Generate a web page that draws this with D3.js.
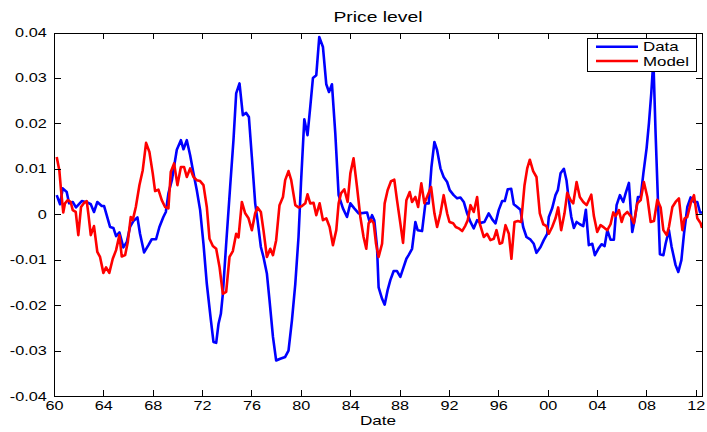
<!DOCTYPE html>
<html>
<head>
<meta charset="utf-8">
<title>Price level</title>
<style>
  body { margin: 0; background: #fff; }
  svg text { font-family: "Liberation Sans", Arial, Helvetica, sans-serif; fill: #000; }
  .axis path, .axis line { stroke: #000; stroke-width: 1; shape-rendering: crispEdges; }
</style>
</head>
<body>
<svg id="chart" width="707" height="432"></svg>
<script src="https://d3js.org/d3.v7.min.js"></script>
<script>
// decimal years and values
var dataYears = [1960.22,1960.49,1960.71,1961.03,1961.22,1961.52,1961.78,1962.25,1962.70,1962.98,1963.24,1963.51,1963.87,1964.06,1964.54,1964.81,1965.03,1965.30,1965.62,1965.90,1966.16,1966.43,1966.76,1966.97,1967.30,1967.65,1967.92,1968.27,1968.54,1968.86,1969.06,1969.27,1969.55,1969.95,1970.28,1970.49,1970.76,1971.03,1971.30,1971.57,1971.84,1972.11,1972.38,1972.71,1972.92,1973.14,1973.33,1973.52,1973.68,1973.95,1974.27,1974.54,1974.76,1975.03,1975.30,1975.57,1975.79,1976.03,1976.30,1976.49,1976.76,1976.97,1977.25,1977.46,1977.74,1978.00,1978.33,1978.73,1979.00,1979.28,1979.55,1979.81,1980.01,1980.28,1980.54,1980.76,1980.98,1981.25,1981.49,1981.79,1982.06,1982.28,1982.52,1982.79,1983.06,1983.41,1983.74,1984.01,1984.33,1984.68,1985.08,1985.36,1985.57,1985.77,1985.95,1986.17,1986.30,1986.58,1986.79,1987.03,1987.25,1987.52,1987.79,1988.06,1988.33,1988.55,1988.73,1989.01,1989.28,1989.46,1989.82,1990.09,1990.36,1990.58,1990.82,1991.04,1991.31,1991.57,1991.85,1992.06,1992.38,1992.66,1992.93,1993.20,1993.47,1993.74,1994.01,1994.28,1994.55,1994.87,1995.22,1995.52,1995.77,1996.03,1996.31,1996.52,1996.76,1997.04,1997.25,1997.53,1997.79,1998.01,1998.28,1998.61,1998.87,1999.09,1999.42,1999.68,1999.96,2000.09,2000.36,2000.63,2000.82,2001.04,2001.31,2001.52,2001.71,2001.91,2002.12,2002.34,2002.60,2002.88,2003.09,2003.33,2003.61,2003.82,2004.10,2004.36,2004.61,2004.83,2005.09,2005.36,2005.58,2005.85,2006.12,2006.31,2006.58,2006.85,2007.06,2007.31,2007.53,2007.75,2008.01,2008.20,2008.39,2008.56,2008.74,2008.93,2009.09,2009.37,2009.55,2009.82,2010.04,2010.36,2010.58,2010.83,2011.04,2011.31,2011.58,2011.85,2012.12,2012.34,2012.50];
var dataValues = [0.0042,0.0022,0.0057,0.0049,0.0024,0.0027,0.0015,0.0029,0.0026,0.0022,0.0005,0.0027,0.0018,0.0018,-0.0028,-0.0030,-0.0048,-0.0040,-0.0073,-0.0061,-0.0028,-0.0015,-0.0007,-0.0043,-0.0084,-0.0068,-0.0055,-0.0055,-0.0028,-0.0006,0.0005,0.0046,0.0075,0.0142,0.0163,0.0143,0.0163,0.0130,0.0090,0.0053,0.0009,-0.0065,-0.0153,-0.0233,-0.0281,-0.0283,-0.0241,-0.0219,-0.0175,-0.0065,0.0060,0.0163,0.0266,0.0288,0.0218,0.0223,0.0214,0.0126,0.0024,-0.0013,-0.0072,-0.0094,-0.0131,-0.0189,-0.0270,-0.0322,-0.0318,-0.0314,-0.0300,-0.0233,-0.0153,-0.0050,0.0068,0.0209,0.0174,0.0236,0.0300,0.0306,0.0390,0.0368,0.0286,0.0269,0.0286,0.0178,0.0042,0.0013,-0.0006,0.0024,0.0013,0.0002,0.0003,0.0004,-0.0017,-0.0002,-0.0013,-0.0072,-0.0161,-0.0186,-0.0199,-0.0167,-0.0145,-0.0125,-0.0125,-0.0138,-0.0116,-0.0098,-0.0090,-0.0076,-0.0017,-0.0035,-0.0037,0.0024,0.0024,0.0104,0.0159,0.0141,0.0101,0.0082,0.0071,0.0053,0.0042,0.0035,0.0037,0.0027,0.0002,-0.0017,-0.0031,-0.0013,-0.0019,-0.0017,0.0002,-0.0012,-0.0020,0.0009,0.0029,0.0029,0.0055,0.0056,0.0022,0.0016,0.0010,-0.0028,-0.0050,-0.0056,-0.0065,-0.0085,-0.0072,-0.0057,-0.0043,-0.0006,0.0013,0.0042,0.0053,0.0090,0.0100,0.0075,0.0031,-0.0006,-0.0030,-0.0017,-0.0022,-0.0026,0.0010,-0.0068,-0.0065,-0.0090,-0.0076,-0.0066,-0.0070,-0.0035,-0.0056,-0.0056,0.0020,0.0042,0.0027,0.0046,0.0069,-0.0039,-0.0010,0.0038,0.0038,0.0090,0.0145,0.0200,0.0266,0.0340,0.0178,0.0031,-0.0088,-0.0090,-0.0065,-0.0035,-0.0072,-0.0112,-0.0127,-0.0101,-0.0043,0.0016,0.0037,0.0027,0.0027,0.0004,0.0004];

var modelYears = [1960.22,1960.43,1960.57,1960.75,1960.89,1961.11,1961.35,1961.52,1961.76,1961.97,1962.19,1962.43,1962.65,1962.78,1962.98,1963.24,1963.51,1963.73,1964.00,1964.22,1964.48,1964.76,1965.03,1965.30,1965.49,1965.76,1965.98,1966.22,1966.38,1966.63,1966.92,1967.19,1967.46,1967.73,1968.00,1968.19,1968.46,1968.73,1969.00,1969.27,1969.46,1969.73,1970.00,1970.28,1970.54,1970.76,1971.03,1971.30,1971.57,1971.84,1972.11,1972.38,1972.60,1972.87,1973.14,1973.41,1973.68,1973.95,1974.22,1974.49,1974.76,1974.95,1975.22,1975.49,1975.76,1976.03,1976.30,1976.49,1976.76,1976.97,1977.25,1977.52,1977.74,1978.00,1978.27,1978.55,1978.73,1979.00,1979.22,1979.55,1979.81,1980.09,1980.36,1980.54,1980.76,1981.03,1981.25,1981.52,1981.79,1982.06,1982.33,1982.60,1982.87,1983.06,1983.25,1983.52,1983.79,1984.01,1984.27,1984.55,1984.82,1985.08,1985.30,1985.49,1985.69,1985.90,1986.09,1986.30,1986.58,1986.79,1987.03,1987.31,1987.57,1987.79,1988.06,1988.28,1988.55,1988.82,1989.01,1989.28,1989.50,1989.76,1990.01,1990.28,1990.55,1990.82,1991.04,1991.31,1991.57,1991.85,1992.04,1992.34,1992.55,1992.79,1993.07,1993.33,1993.52,1993.74,1994.01,1994.28,1994.49,1994.82,1995.09,1995.36,1995.63,1995.85,1996.11,1996.31,1996.58,1996.85,1997.06,1997.31,1997.58,1997.85,1998.12,1998.34,1998.55,1998.82,1999.09,1999.36,1999.64,1999.90,2000.09,2000.36,2000.63,2000.85,2001.09,2001.36,2001.58,2001.85,2002.07,2002.34,2002.60,2002.88,2003.15,2003.53,2003.74,2004.01,2004.28,2004.55,2004.83,2005.09,2005.31,2005.50,2005.77,2005.99,2006.17,2006.45,2006.72,2006.98,2007.26,2007.53,2007.79,2008.07,2008.34,2008.61,2008.88,2009.15,2009.37,2009.64,2009.82,2010.10,2010.36,2010.63,2010.91,2011.09,2011.31,2011.58,2011.85,2012.12,2012.39,2012.50];
var modelValues = [0.0126,0.0097,0.0053,0.0004,0.0024,0.0031,0.0027,0.0009,0.0005,-0.0046,0.0016,0.0025,0.0029,0.0002,-0.0046,-0.0026,-0.0083,-0.0094,-0.0129,-0.0117,-0.0129,-0.0098,-0.0079,-0.0046,-0.0093,-0.0090,-0.0061,-0.0006,-0.0013,0.0016,0.0064,0.0097,0.0157,0.0137,0.0090,0.0051,0.0054,0.0031,0.0016,0.0013,0.0093,0.0112,0.0064,0.0104,0.0104,0.0082,0.0101,0.0082,0.0075,0.0073,0.0064,0.0016,-0.0054,-0.0070,-0.0076,-0.0116,-0.0175,-0.0171,-0.0094,-0.0081,-0.0043,-0.0051,0.0027,0.0002,-0.0009,-0.0035,0.0002,0.0015,0.0005,-0.0035,-0.0094,-0.0076,-0.0090,-0.0057,0.0020,0.0038,0.0075,0.0095,0.0075,0.0020,0.0015,0.0018,0.0024,0.0044,0.0024,0.0025,-0.0002,0.0024,-0.0013,-0.0009,-0.0028,-0.0068,-0.0035,0.0024,0.0046,0.0055,0.0027,0.0090,0.0123,0.0060,-0.0006,-0.0050,-0.0076,-0.0020,-0.0012,-0.0020,-0.0065,-0.0094,-0.0065,0.0024,0.0053,0.0073,0.0076,0.0031,-0.0020,-0.0063,0.0031,0.0049,0.0027,0.0038,0.0016,0.0068,0.0024,0.0042,0.0060,0.0002,-0.0028,0.0002,0.0042,0.0002,-0.0017,-0.0020,-0.0028,-0.0031,-0.0037,-0.0025,-0.0013,0.0020,0.0005,0.0038,-0.0020,-0.0050,-0.0043,-0.0057,-0.0054,-0.0035,-0.0065,-0.0063,-0.0024,-0.0043,-0.0098,-0.0017,-0.0015,-0.0017,0.0064,0.0101,0.0120,0.0095,0.0082,0.0002,-0.0022,-0.0026,-0.0043,-0.0028,-0.0009,0.0015,-0.0035,0.0002,0.0047,0.0031,0.0024,0.0071,0.0038,0.0027,0.0020,0.0043,-0.0004,-0.0039,-0.0024,-0.0029,-0.0035,-0.0022,0.0004,-0.0004,0.0009,-0.0017,-0.0002,0.0005,-0.0004,-0.0020,0.0024,0.0031,0.0071,0.0038,-0.0017,-0.0015,0.0032,0.0015,-0.0035,-0.0046,-0.0028,0.0016,0.0027,0.0035,-0.0035,-0.0009,-0.0006,0.0024,0.0042,-0.0009,-0.0020,-0.0030];

var xTicks = d3.range(1960, 2013, 4);
var yTicks = [-0.04, -0.03, -0.02, -0.01, 0, 0.01, 0.02, 0.03, 0.04];
var seriesNames = ["Data", "Model"];

var svg = d3.select("#chart"),
    margin = {top: 32.5, right: 5, bottom: 36, left: 54},
    width = 707 - margin.left - margin.right,
    height = 432 - margin.top - margin.bottom,
    stretch = 1.3;   // the original font looks stretched sideways

var x = d3.scaleLinear().domain([1960, 2012.5]).range([0, width]),
    y = d3.scaleLinear().domain([-0.04, 0.04]).range([height, 0]);

var g = svg.append("g")
    .attr("transform", "translate(" + margin.left + "," + margin.top + ")");

g.append("clipPath").attr("id", "clip")
  .append("rect").attr("width", width).attr("height", height);

var line = d3.line()
    .x(function(d) { return x(d[0]); })
    .y(function(d) { return y(d[1]); });

var dataPts = d3.zip(dataYears, dataValues),
    modelPts = d3.zip(modelYears, modelValues);

g.append("path").datum(dataPts)
    .attr("clip-path", "url(#clip)")
    .attr("fill", "none").attr("stroke", "#0000ff")
    .attr("stroke-width", 2.6).attr("stroke-linejoin", "round")
    .attr("d", line);

g.append("path").datum(modelPts)
    .attr("clip-path", "url(#clip)")
    .attr("fill", "none").attr("stroke", "#ff0000")
    .attr("stroke-width", 2.6).attr("stroke-linejoin", "round")
    .attr("d", line);

// axes, ticks pointing inward like matlab
var tick = 6.5;

var xAxis = g.append("g")
    .attr("class", "axis")
    .attr("transform", "translate(0," + height + ")")
    .call(d3.axisBottom(x).tickValues(xTicks).tickSize(-tick).tickSizeOuter(0).tickPadding(5)
      .tickFormat(function(d) { return d3.format("02d")(d % 100); }));
xAxis.selectAll("text")
    .attr("font-size", "12.5px")
    .attr("transform", "scale(" + stretch + ",1)");

var yAxis = g.append("g")
    .attr("class", "axis")
    .call(d3.axisLeft(y).tickValues(yTicks).tickSize(-tick).tickSizeOuter(0)
      .tickFormat(function(d) { return d === 0 ? "0" : d3.format(".2f")(d).replace("−", "-"); }));
yAxis.selectAll("text")
    .attr("font-size", "12.5px")
    .attr("x", -5.6)
    .attr("transform", "scale(" + stretch + ",1)");

g.append("g").attr("class", "axis")
    .call(d3.axisTop(x).tickValues(xTicks).tickSize(-tick).tickSizeOuter(0).tickFormat(""));
g.append("g").attr("class", "axis")
    .attr("transform", "translate(" + width + ",0)")
    .call(d3.axisRight(y).tickValues(yTicks).tickSize(-tick).tickSizeOuter(0).tickFormat(""));

g.selectAll(".axis .domain").attr("stroke", "#000");
g.selectAll(".axis text").attr("fill", "#000");

// title and label
svg.append("text")
    .attr("transform", "translate(" + (margin.left + width / 2) + ",21.7) scale(1.38,1)")
    .attr("text-anchor", "middle")
    .attr("font-size", "14px")
    .text("Price level");

svg.append("text")
    .attr("transform", "translate(" + (margin.left + width / 2) + ",425) scale(1.27,1)")
    .attr("text-anchor", "middle")
    .attr("font-size", "13.5px")
    .text("Date");

// legend
var legend = svg.append("g").attr("transform", "translate(587,38)");
legend.append("rect")
    .attr("width", 109).attr("height", 33)
    .attr("fill", "#fff").attr("stroke", "#000").attr("stroke-width", 1)
    .attr("shape-rendering", "crispEdges");

var legendColors = ["#0000ff", "#ff0000"];
seriesNames.forEach(function(name, i) {
  var ly = 8.7 + i * 14.3;
  legend.append("line")
      .attr("x1", 9).attr("x2", 51).attr("y1", ly).attr("y2", ly)
      .attr("stroke", legendColors[i]).attr("stroke-width", 2.6);
  legend.append("text")
      .attr("transform", "translate(56," + (ly + 4.6) + ") scale(" + stretch + ",1)")
      .attr("font-size", "13px")
      .text(name);
});
</script>
</body>
</html>
